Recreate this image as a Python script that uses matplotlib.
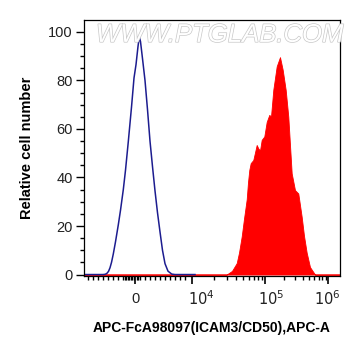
import matplotlib
matplotlib.use("Agg")
import matplotlib.pyplot as plt
import matplotlib.patheffects as pe
import numpy as np

plt.rcParams['font.family'] = ['Liberation Sans', 'DejaVu Sans']

# x is in display channels (biexponential axis, 0..256 across the plot)
blue_x = [0, 19, 21, 22.7, 24.5, 26, 27.5, 29.3, 31.5, 34.3, 36.5, 39.3, 41.5, 44.3, 47.5,
          50, 52, 54, 55.3, 56.5, 58.5, 61, 63.5, 66, 68.5, 71, 73.5, 76, 78.5, 81,
          84, 87.7, 91, 111]
blue_y = [0, 0, 0.1, 0.4, 1.3, 2.8, 5, 8.5, 13.5, 20.5, 26.5, 35, 43, 54.8, 69,
          81, 86.5, 94, 98, 96, 89, 80, 68, 55, 44.5, 34.5, 25.5, 17.6, 10, 4.5,
          1.4, 0.2, 0, 0]

red_x = [0, 142.7, 148, 152.7, 155, 157.7, 160, 162.7, 164, 165.3, 166.7, 169.3, 172.7, 174.3,
         176, 177.7, 180.3, 182.7, 185.3, 187, 189.3, 192.7, 196, 198.7, 201.7, 204.3,
         207.7, 211, 214.3, 217.7, 220, 222.7, 226, 231, 256]
red_y = [0, 0, 1.5, 4.7, 9, 15.7, 23, 31, 38, 43.1, 45.9, 47.2, 53.4, 52.0,
         51.1, 55.5, 56.9, 62.9, 65.8, 65.1, 76.1, 85.8, 89.6, 84.4, 76.1, 65.1,
         41.7, 34.8, 33.4, 23.8, 16, 9.0, 3.1, 0, 0]

# channel positions of the axis decades
zero_ch = 51
decade_ch = {4: 108, 5: 181, 6: 244.5}
tick_labels = ['0', '$10^4$', '$10^5$', '$10^6$']
label_ch = [51, 117.5, 187.5, 243]

fig = plt.figure(figsize=(3.61, 3.56), dpi=100)
ax = fig.add_axes([0.2327, 0.2247, 0.7091, 0.7191])

ax.fill_between(red_x, red_y, 0, color='#ff0000', linewidth=0.6, edgecolor='#ff0000')
ax.plot(blue_x, blue_y, color='#1c1c8f', linewidth=1.1)

ax.set_xlim(0, 256)
ax.set_ylim(-0.6, 104.9)

# x ticks
majors = [zero_ch, decade_ch[4], decade_ch[5], decade_ch[6]]
minors = list(np.arange(4, 35, 5)) + list(np.arange(39, 57, 1.5)) + list(np.arange(61, 104, 5))
for d0, d1 in [(4, 5), (5, 6)]:
    a, b = decade_ch[d0], decade_ch[d1]
    minors += [a + (b - a) * np.log10(k) for k in range(2, 10)]
ax.set_xticks(majors)
ax.set_xticklabels([])
ax.set_xticks(minors, minor=True)
for lab, xc in zip(tick_labels, label_ch):
    ax.text(xc, -0.09, lab, transform=ax.get_xaxis_transform(), ha='center', va='center',
            fontsize=10.5, color='#222222')

ax.set_yticks(np.arange(0, 101, 20))
ax.set_yticks(np.arange(0, 101, 5), minor=True)
ax.tick_params(axis='y', which='major', length=6, width=1, labelsize=10.5, labelcolor='#222222', pad=2)
ax.tick_params(axis='y', which='minor', length=3, width=1)
ax.tick_params(axis='x', which='major', length=6, width=1.2)
ax.tick_params(axis='x', which='minor', length=3, width=1)

for s in ax.spines.values():
    s.set_linewidth(0.9)

ax.set_ylabel('Relative cell number', fontsize=10.5, fontweight='bold', labelpad=10)
ax.set_xlabel('APC-FcA98097(ICAM3/CD50),APC-A', fontsize=10, fontweight='bold', labelpad=23)

fig.text(0.609, 0.902, 'WWW.PTGLAB.COM', ha='center', va='center', fontsize=18.5,
         style='italic', color='white',
         path_effects=[pe.withStroke(linewidth=1.0, foreground='#c8c8c8')])

fig.savefig('out.png', dpi=100)
